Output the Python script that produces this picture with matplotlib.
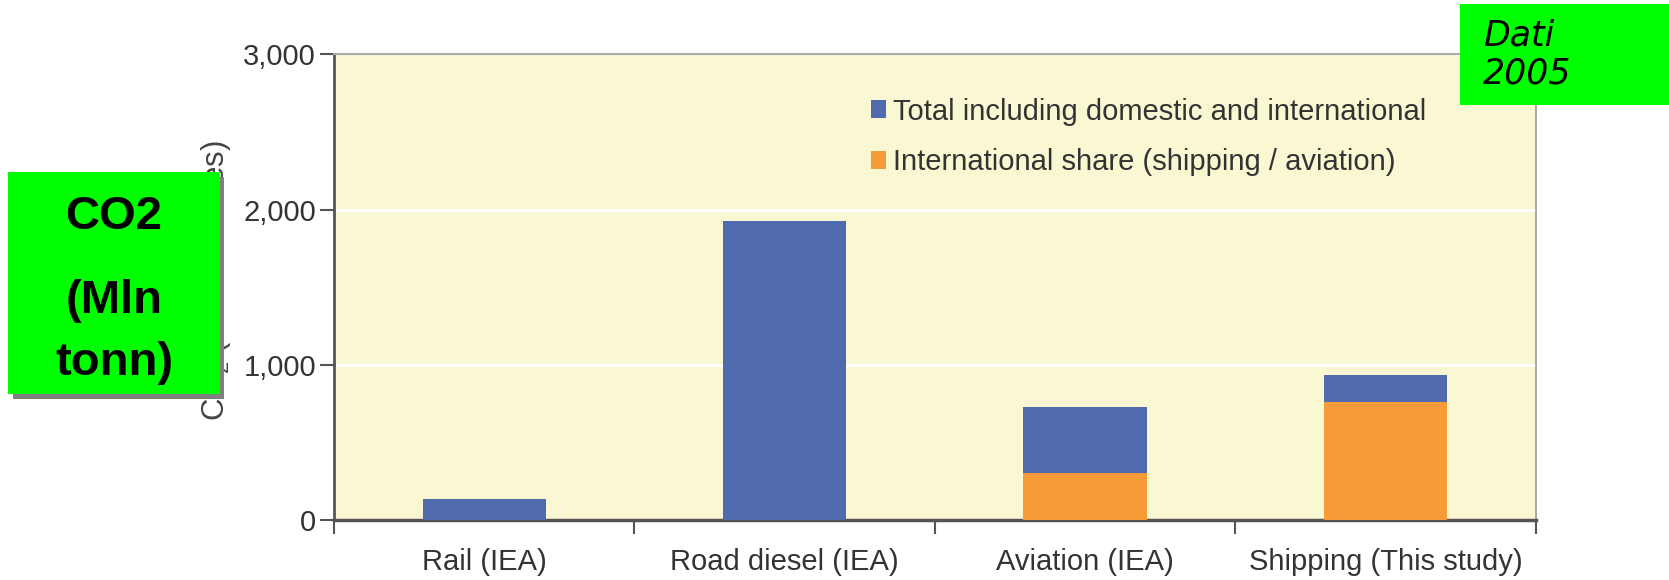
import matplotlib
matplotlib.use("Agg")
import matplotlib.pyplot as plt
from matplotlib.patches import Rectangle, Patch
from matplotlib.ticker import FuncFormatter

# ---- data ----
categories = ["Rail (IEA)", "Road diesel (IEA)", "Aviation (IEA)", "Shipping (This study)"]
total_values = [135, 1926, 730, 932]          # total incl. domestic and international
international_values = [0, 0, 305, 760]       # international share
legend_labels = ["Total including domestic and international",
                 "International share (shipping / aviation)"]
y_ticks = [0, 1000, 2000, 3000]
y_label = "CO$_2$ (million tonnes)"
box_lines = ["CO2", "(Mln", "tonn)"]
note_lines = ["Dati", "2005"]

W, H = 1669, 580
plt.rcParams['font.family'] = ['Liberation Sans', 'DejaVu Sans']
plt.rcParams['mathtext.fontset'] = 'custom'
plt.rcParams['mathtext.rm'] = 'Liberation Sans'
plt.rcParams['mathtext.it'] = 'Liberation Sans:italic'

fig = plt.figure(figsize=(W / 100, H / 100), dpi=100)
fig.patch.set_facecolor("white")

def fx(x):
    return x / W

def fy(y):
    return 1 - y / H

ax_left, ax_right, ax_top, ax_bottom = 334, 1535.5, 54.3, 520
ax = fig.add_axes([fx(ax_left), fy(ax_bottom), (ax_right - ax_left) / W, (ax_bottom - ax_top) / H])
ax.set_facecolor("#FAF8D2")

blue = "#4F6BAE"
orange = "#F59B37"
xpos = [i + 0.5 for i in range(len(categories))]
bw = 0.41
ax.bar(xpos, total_values, width=bw, color=blue, zorder=3, label=legend_labels[0])
ax.bar(xpos, international_values, width=bw, color=orange, zorder=4, label=legend_labels[1])

ax.set_xlim(0, len(categories))
ax.set_ylim(0, 3000)
ax.set_yticks(y_ticks)
ax.yaxis.set_major_formatter(FuncFormatter(lambda v, p: f"{int(v):,}"))
for v in y_ticks[1:-1]:
    ax.axhline(v, color="white", lw=2.2, zorder=1)

ax.set_xticks(range(len(categories) + 1))
ax.set_xticklabels([])
ax.set_xticks(xpos, minor=True)
ax.set_xticklabels(categories, minor=True)
ax.tick_params(axis="x", which="major", direction="out", length=10, width=1.5, color="#555555")
ax.tick_params(axis="x", which="minor", length=0, pad=20, labelsize=21, labelcolor="#333333")
ax.tick_params(axis="y", direction="out", length=10, width=1.5, color="#555555",
               labelsize=21, labelcolor="#333333", pad=3)

ax.spines["left"].set_color("#555555")
ax.spines["left"].set_linewidth(2)
ax.spines["bottom"].set_color("#555555")
ax.spines["bottom"].set_linewidth(2.5)
ax.spines["top"].set_color("#AAAAAA")
ax.spines["top"].set_linewidth(1.5)
ax.spines["right"].set_color("#999999")
ax.spines["right"].set_linewidth(1.2)

ax.set_ylabel(y_label, fontsize=22.5, color="#444444")
ax.yaxis.set_label_coords(-0.0844, 0.515)

handles = [Patch(facecolor=blue, edgecolor="none"), Patch(facecolor=orange, edgecolor="none")]
leg = ax.legend(handles, legend_labels, loc="center left",
                bbox_to_anchor=(fx(871), fy(137)), bbox_transform=fig.transFigure,
                frameon=False, fontsize=21, handlelength=0.52, handleheight=0.58,
                handletextpad=0.25, labelspacing=0.78, borderpad=0, borderaxespad=0)
for t in leg.get_texts():
    t.set_color("#333333")

# ---- green annotation box (left) with shadow ----
green = "#00FF00"
fig.add_artist(Rectangle((fx(13), fy(399)), (224 - 13) / W, (399 - 177) / H,
                         transform=fig.transFigure, facecolor="#808080", edgecolor="none", zorder=5))
fig.add_artist(Rectangle((fx(8), fy(394)), (220 - 8) / W, (394 - 172) / H,
                         transform=fig.transFigure, facecolor=green, edgecolor="none", zorder=6))
box_baselines = [229, 313, 375]
for line, yb in zip(box_lines, box_baselines):
    fig.text(fx(114), fy(yb), line, ha="center", va="baseline", fontsize=34,
             fontweight="bold", color="black", zorder=7)

# ---- green note box (top right) ----
fig.add_artist(Rectangle((fx(1460), fy(105)), (W - 1460) / W, (105 - 4) / H,
                         transform=fig.transFigure, facecolor=green, edgecolor="none", zorder=6))
for line, yb in zip(note_lines, [46, 83]):
    fig.text(fx(1483), fy(yb), line, ha="left", va="baseline", fontsize=25,
             family="DejaVu Sans", style="italic", color="black", zorder=7)

fig.savefig("out.png", dpi=100)
